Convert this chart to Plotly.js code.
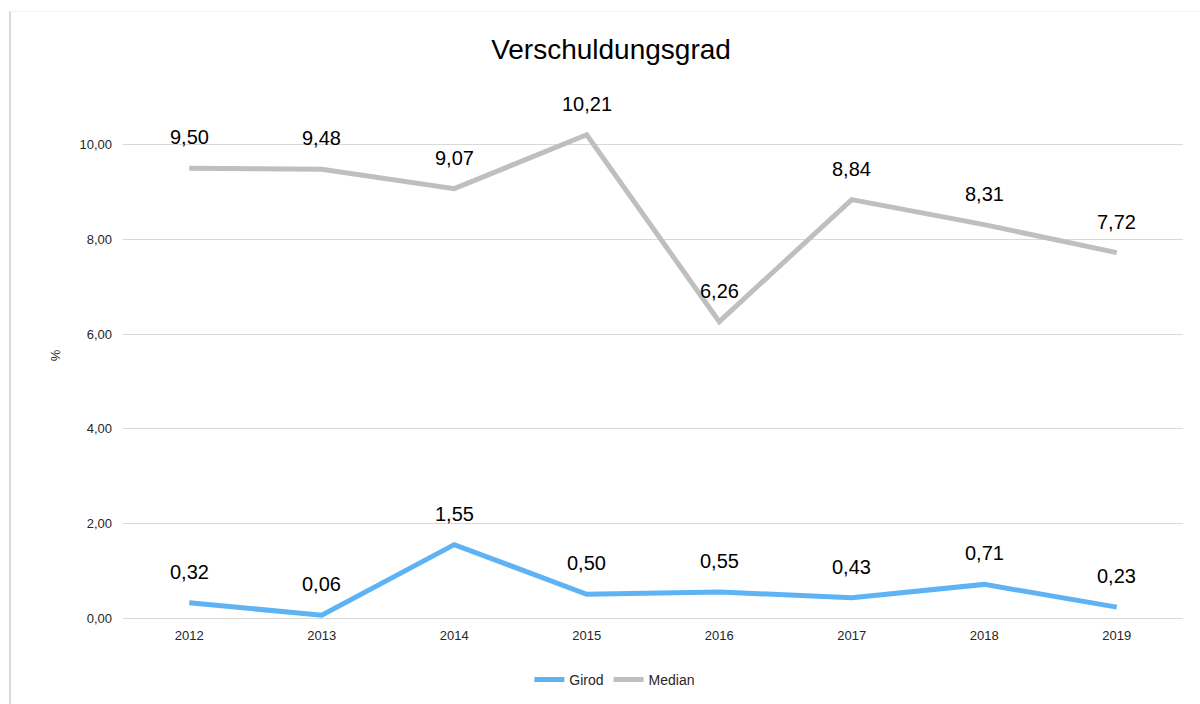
<!DOCTYPE html>
<html>
<head>
<meta charset="utf-8">
<script src="https://cdn.plot.ly/plotly-3.0.1.min.js"></script>
<style>
html,body{margin:0;padding:0;background:#fff;}
#chart{width:1200px;height:704px;position:relative;}
#frame{position:absolute;left:9px;top:11px;width:1191px;height:693px;border-left:2px solid #d9d9d9;border-top:1px solid #f3f3f3;pointer-events:none;}
</style>
</head>
<body>
<div id="chart"></div>
<div id="frame"></div>
<script>
const years = ['2012','2013','2014','2015','2016','2017','2018','2019'];
const girod = [0.32, 0.06, 1.55, 0.50, 0.55, 0.43, 0.71, 0.23];
const median = [9.50, 9.48, 9.07, 10.21, 6.26, 8.84, 8.31, 7.72];
const yTicks = [0, 2, 4, 6, 8, 10];

const font = 'Liberation Sans, Arial, sans-serif';
const fmt = v => v.toFixed(2).replace('.', ',');

const traces = [
  {x: years, y: girod, name: 'Girod', type: 'scatter', mode: 'lines',
   line: {color: '#5DB3F4', width: 5}},
  {x: years, y: median, name: 'Median', type: 'scatter', mode: 'lines',
   line: {color: '#BFBFBF', width: 5}}
];

const annotations = [];
[girod, median].forEach(arr => {
  arr.forEach((v, i) => annotations.push({
    x: i, y: v, xref: 'x', yref: 'y', text: fmt(v), showarrow: false,
    yshift: 31, yanchor: 'middle', font: {family: font, size: 20, color: '#000'}
  }));
});
annotations.push({
  x: -0.064, y: 0.463, xref: 'paper', yref: 'paper', text: '%', showarrow: false,
  textangle: -90, xanchor: 'center', yanchor: 'middle',
  font: {family: font, size: 13, color: '#262626'}
});

const layout = {
  width: 1200, height: 704,
  margin: {l: 123, r: 17, t: 50, b: 86},
  paper_bgcolor: '#fff', plot_bgcolor: '#fff',
  separators: ',.',
  font: {family: font, color: '#404040'},
  title: {text: 'Verschuldungsgrad', font: {family: font, size: 28, color: '#000'},
          x: 611/1200, xanchor: 'center', y: 1 - 49/704, yref: 'container', yanchor: 'middle'},
  xaxis: {type: 'category', range: [-0.5, 7.5], showgrid: false, showline: false,
          zeroline: false, ticks: '', tickfont: {family: font, size: 13, color: '#262626'},
          ticklabelstandoff: 8, fixedrange: true},
  yaxis: {range: [0, 12], tickvals: yTicks, tickformat: '.2f', showgrid: true,
          gridcolor: '#d9d9d9', gridwidth: 1, zeroline: true, zerolinecolor: '#d9d9d9',
          zerolinewidth: 1, showline: false, ticks: '',
          tickfont: {family: font, size: 13, color: '#262626'}, ticklabelstandoff: 10},
  showlegend: true,
  legend: {orientation: 'h', x: 0.464, xanchor: 'center', y: 1 - 680/704, yref: 'container',
           yanchor: 'middle', font: {family: font, size: 14, color: '#262626'}},
  annotations: annotations
};

Plotly.newPlot('chart', traces, layout, {displayModeBar: false, staticPlot: true});
</script>
</body>
</html>
